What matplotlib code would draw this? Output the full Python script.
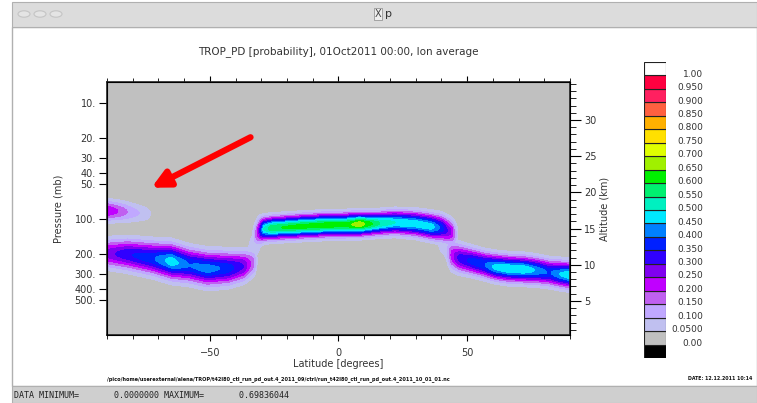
import numpy as np
import matplotlib
matplotlib.use('Agg')
import matplotlib.pyplot as plt
from matplotlib.patches import Rectangle, Circle, FancyArrowPatch
from matplotlib.ticker import FixedLocator, NullLocator, MultipleLocator

W, H = 757, 403

# Contour levels and their colours (Ferret default palette look).
levels = [0.00, 0.05, 0.10, 0.15, 0.20, 0.25, 0.30, 0.35, 0.40, 0.45, 0.50,
          0.55, 0.60, 0.65, 0.70, 0.75, 0.80, 0.85, 0.90, 0.95, 1.00]
level_labels = ['0.00', '0.0500', '0.100', '0.150', '0.200', '0.250', '0.300',
                '0.350', '0.400', '0.450', '0.500', '0.550', '0.600', '0.650',
                '0.700', '0.750', '0.800', '0.850', '0.900', '0.950', '1.00']
fill_colors = ['#c0c0c0', '#c0c0f0', '#c0a8ff', '#c060f0', '#c000ff',
               '#8000f0', '#3000ff', '#0020ff', '#0080ff', '#00e8ff',
               '#00f0c0', '#00f070', '#00f000', '#a0f000', '#e0ff00',
               '#ffe000', '#ffb000', '#ff6040', '#ff2060', '#ff0040']
under_color = '#000000'
over_color = '#ffffff'

# Ridges of the probability bands:
# latitude nodes, ridge pressure (mb), peak probability, thickness (decades of p)
sh_high_lat = [-90, -85, -80, -75, -70]
sh_high_p = [85, 86, 88, 90, 91]
sh_high_peak = [0.25, 0.19, 0.12, 0.08, 0.0]
sh_high_w = [0.06, 0.06, 0.06, 0.055, 0.05]

sh_low_lat = [-90, -82, -72, -65, -58, -51, -43, -37, -33, -31]
sh_low_p = [198, 202, 218, 232, 250, 268, 266, 255, 240, 225]
sh_low_peak = [0.27, 0.34, 0.39, 0.48, 0.40, 0.43, 0.38, 0.30, 0.16, 0.0]
sh_low_w = [0.08, 0.085, 0.09, 0.095, 0.092, 0.092, 0.09, 0.085, 0.08, 0.075]

trop_lat = [-34, -31, -29, -26, -15, -5, 3, 8, 12, 16, 22, 30, 36, 40, 44, 47]
trop_p = [150, 128, 122, 120, 116, 113, 112, 111, 110, 109, 107, 110, 116, 120, 130, 140]
trop_peak = [0.0, 0.25, 0.50, 0.59, 0.62, 0.63, 0.62, 0.69, 0.62, 0.55, 0.50, 0.49,
             0.48, 0.38, 0.24, 0.0]
trop_w = [0.08, 0.075, 0.062, 0.06, 0.06, 0.06, 0.06, 0.06, 0.06, 0.06, 0.062,
          0.065, 0.068, 0.072, 0.075, 0.075]

nh_low_lat = [41, 44, 47, 52, 57, 61, 66, 72, 77, 82, 86, 90]
nh_low_p = [180, 205, 218, 232, 248, 260, 268, 272, 278, 290, 298, 305]
nh_low_peak = [0.0, 0.22, 0.32, 0.37, 0.40, 0.47, 0.50, 0.50, 0.44, 0.39, 0.45, 0.50]
nh_low_w = [0.09, 0.085, 0.078, 0.072, 0.07, 0.07, 0.07, 0.07, 0.07, 0.07, 0.07, 0.07]

# faint links between the bands
link_lat = [-37, -34, -31, -28, 36, 40, 44, 48]
link_p = [230, 185, 150, 130, 125, 150, 190, 215]
link_peak = [0.0, 0.085, 0.085, 0.0, 0.0, 0.095, 0.095, 0.0]
link_w = [0.09, 0.1, 0.1, 0.09, 0.09, 0.095, 0.095, 0.09]

lat = np.linspace(-90, 90, 361)
logp = np.linspace(np.log10(6.6), 3.0, 500)
LOGP = logp[:, None]


def band(lats, pres, peak, width):
    centre = np.interp(lat, lats, np.log10(pres))
    amp = np.interp(lat, lats, peak, left=0, right=0)
    s = np.interp(lat, lats, width)
    return amp * np.exp(-0.5 * ((LOGP - centre) / s) ** 2)


field = np.zeros((len(logp), len(lat)))
for b in [(sh_high_lat, sh_high_p, sh_high_peak, sh_high_w),
          (sh_low_lat, sh_low_p, sh_low_peak, sh_low_w),
          (trop_lat, trop_p, trop_peak, trop_w),
          (nh_low_lat, nh_low_p, nh_low_peak, nh_low_w),
          (link_lat, link_p, link_peak, link_w)]:
    field = np.maximum(field, band(*b))

fig = plt.figure(figsize=(W / 100, H / 100), dpi=100)
fig.patch.set_facecolor('white')


def fx(x):
    return x / W


def fy(y):
    return 1 - y / H


# Window chrome (kept behind the axes).
fig.add_artist(Rectangle((fx(12), fy(386)), fx(745), 359 / H, transform=fig.transFigure,
                         fc='white', ec='#b0b0b0', lw=1, zorder=-10))
fig.add_artist(Rectangle((fx(12), fy(27)), fx(745), 25 / H, transform=fig.transFigure,
                         fc='#dcdcdc', ec='#b0b0b0', lw=0.8, zorder=-10))
for cx in [24, 40, 56]:
    fig.add_artist(Circle((fx(cx), fy(14)), 6 / W, transform=fig.transFigure,
                          fc='#e4e4e4', ec='#c4c4c4', lw=0.8, zorder=-9))
fig.text(fx(378), fy(14), 'X', fontsize=7, ha='center', va='center', color='#444444',
         bbox=dict(boxstyle='square,pad=0.1', fc='#eeeeee', ec='#888888', lw=0.5))
fig.text(fx(389), fy(14), 'p', fontsize=8, ha='center', va='center', color='#333333')
fig.add_artist(Rectangle((fx(12), 0), fx(745), 17 / H, transform=fig.transFigure,
                         fc='#cfcfcf', ec='#b0b0b0', lw=0.8, zorder=-10))
fig.text(fx(14), fy(395), 'DATA MINIMUM=       0.0000000 MAXIMUM=       0.69836044',
         fontsize=6, family='DejaVu Sans Mono', ha='left', va='center', color='#222222')

# Main panel.
ax = fig.add_axes([fx(107), fy(335), fx(463), 253 / H])
ax.set_facecolor('#c0c0c0')
ax.contourf(lat, 10 ** logp, field, levels=levels, colors=fill_colors)
ax.set_yscale('log')
ax.set_ylim(1000, 6.6)
ax.set_xlim(-90, 90)

p_ticks = [10, 20, 30, 40, 50, 100, 200, 300, 400, 500]
ax.yaxis.set_major_locator(FixedLocator(p_ticks))
ax.yaxis.set_minor_locator(NullLocator())
ax.set_yticklabels(['{}.'.format(p) for p in p_ticks])
ax.xaxis.set_major_locator(FixedLocator([-50, 0, 50]))
ax.xaxis.set_minor_locator(MultipleLocator(10))
ax.xaxis.set_ticks_position('both')
ax.tick_params(axis='x', which='both', direction='out', labelsize=7,
               labelcolor='#333333', top=True, labeltop=False)
ax.tick_params(axis='x', which='major', length=4, pad=5)
ax.tick_params(axis='x', which='minor', length=3)
ax.tick_params(axis='y', which='major', direction='out', length=6, pad=2,
               labelsize=7, labelcolor='#333333')
ax.set_xlabel('Latitude [degrees]', fontsize=7, color='#333333', labelpad=1)
ax.set_ylabel('Pressure (mb)', fontsize=7, color='#333333', labelpad=8)
for s in ax.spines.values():
    s.set_color('#222222')
    s.set_linewidth(1.2)

alt = ax.twinx()
alt.set_ylim(0.3, 35.25)
alt.yaxis.set_major_locator(MultipleLocator(5))
alt.yaxis.set_minor_locator(MultipleLocator(1))
alt.set_yticks([5, 10, 15, 20, 25, 30])
alt.tick_params(axis='y', which='major', direction='out', length=8, pad=2,
                labelsize=7, labelcolor='#333333')
alt.tick_params(axis='y', which='minor', direction='out', length=4)
alt.set_ylabel('Altitude (km)', fontsize=7, color='#333333', labelpad=2)

fig.text(fx(338), fy(52), 'TROP_PD [probability], 01Oct2011 00:00, lon average',
         fontsize=7.5, ha='center', va='center', color='#333333')

# Ferret footer lines.
fig.text(fx(107), fy(379),
         '/pico/home/userexternal/alena/TROP/t42l80_ctl_run_pd_out.4_2011_09/ctrl/'
         'run_t42l80_ctl_run_pd_out.4_2011_10_01_01.nc',
         fontsize=3.6, weight='bold', ha='left', va='center', color='#111111')
fig.text(fx(688), fy(379), 'DATE: 12.12.2011 10:14', fontsize=3.4, weight='bold',
         ha='left', va='center', color='#111111')

# Colour key.
cax = fig.add_axes([fx(644), fy(358), fx(22), 296 / H])
key_colors = [under_color] + fill_colors + [over_color]
for i, c in enumerate(key_colors):
    cax.add_patch(Rectangle((0, i), 1, 1, fc=c, ec='#222222', lw=0.8))
cax.set_xlim(0, 1)
cax.set_ylim(0, len(key_colors))
cax.axis('off')
for i, lab in enumerate(level_labels):
    cax.text(2.68, i + 1.1, lab, fontsize=6.5, ha='right', va='center',
             color='#333333', clip_on=False)

# The red arrow pointing at the upper SH band.
fig.add_artist(FancyArrowPatch((fx(253), fy(136)), (fx(149), fy(189)),
                               transform=fig.transFigure, arrowstyle='-|>',
                               mutation_scale=26, lw=4.5, color='#ff0000', zorder=10))

fig.savefig('out.png', dpi=100)
